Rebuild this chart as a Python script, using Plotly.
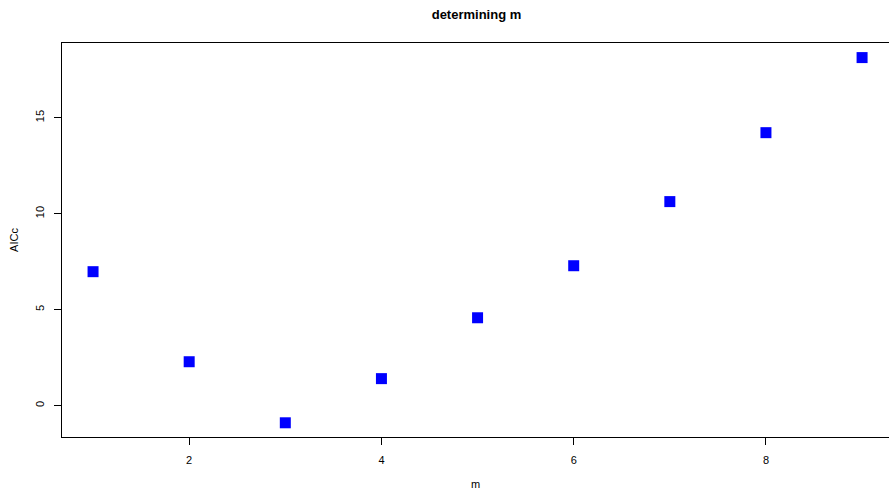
import plotly.graph_objects as go

# Candidate model orders and their corrected AIC values
m_values = [1, 2, 3, 4, 5, 6, 7, 8, 9]
aicc_values = [6.98, 2.29, -0.89, 1.41, 4.58, 7.29, 10.63, 14.22, 18.13]

x_ticks = [2, 4, 6, 8]
y_ticks = [0, 5, 10, 15]

font_family = "Liberation Sans, Arial, sans-serif"

fig = go.Figure(
    go.Scatter(
        x=m_values,
        y=aicc_values,
        mode="markers",
        marker=dict(symbol="square", size=11, color="#0000ff", line=dict(width=0)),
        showlegend=False,
    )
)

fig.update_layout(
    width=889,
    height=490,
    margin=dict(l=62, r=0, t=43, b=53),
    paper_bgcolor="white",
    plot_bgcolor="white",
    font=dict(family=font_family, size=12, color="black"),
    title=dict(
        text="<b>determining m</b>",
        x=(62 + 891) / 2 / 889,
        xanchor="center",
        y=1 - 14 / 490,
        yanchor="middle",
        font=dict(size=13, family=font_family, color="black"),
    ),
)

fig.update_xaxes(
    range=[0.677, 9.28],
    tickvals=x_ticks,
    ticks="outside",
    ticklen=7,
    tickcolor="black",
    tickwidth=1,
    showline=True,
    linecolor="black",
    linewidth=1,
    mirror=True,
    showgrid=False,
    zeroline=False,
    ticklabelstandoff=6,
    tickfont=dict(size=11),
    title=dict(text="m", standoff=16, font=dict(size=11)),
)

fig.update_yaxes(
    range=[-1.63, 18.89],
    tickvals=y_ticks,
    ticks="outside",
    ticklen=7,
    tickcolor="black",
    tickwidth=1,
    showline=True,
    linecolor="black",
    linewidth=1,
    mirror=False,
    showgrid=False,
    zeroline=False,
    tickangle=-90,
    ticklabelstandoff=6,
    tickfont=dict(size=11),
    title=dict(text="AICc", standoff=12, font=dict(size=11)),
)

fig.write_html("out.html")
